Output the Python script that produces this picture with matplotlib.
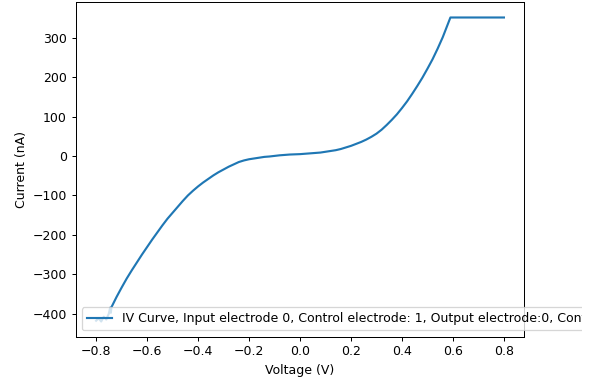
import matplotlib
matplotlib.use("Agg")
import matplotlib.pyplot as plt
from matplotlib.patches import Rectangle

# Measured sweep: voltage (V) and current (nA)
voltage = [
    -0.80, -0.79, -0.78, -0.77, -0.76, -0.75, -0.745, -0.742, -0.74, -0.73,
    -0.72, -0.70, -0.68, -0.66, -0.64, -0.62, -0.60, -0.58, -0.56, -0.54,
    -0.52, -0.50, -0.48, -0.46, -0.44, -0.42, -0.40, -0.38, -0.36, -0.34,
    -0.32, -0.30, -0.28, -0.26, -0.24, -0.22, -0.20, -0.18, -0.16, -0.14,
    -0.12, -0.10, -0.08, -0.06, -0.04, -0.02, 0.00, 0.02, 0.04, 0.06,
    0.08, 0.10, 0.12, 0.14, 0.16, 0.18, 0.20, 0.22, 0.24, 0.26,
    0.28, 0.30, 0.32, 0.34, 0.36, 0.38, 0.40, 0.42, 0.44, 0.46,
    0.48, 0.50, 0.52, 0.54, 0.56, 0.575, 0.59, 0.80,
]
current = [
    -418, -412, -420, -408, -415, -400, -385, -398, -384, -371,
    -358, -334, -311, -290, -270, -250, -231, -212, -194, -176,
    -159, -144, -129, -114, -100, -88, -77, -67, -58, -49,
    -41, -34, -27, -21, -15, -11, -8, -6, -4, -2,
    -1, 0.5, 2, 3, 4, 4.5, 5, 6, 7, 8,
    9, 11, 13, 15, 18, 22, 26, 31, 36, 42,
    49, 57, 67, 79, 92, 106, 122, 139, 158, 178,
    199, 222, 246, 273, 302, 327, 352, 352,
]

label = ("IV Curve, Input electrode 0, Control electrode: 1, "
         "Output electrode:0, Control voltage: 0.0 V")

DPI = 90.4
fig = plt.figure(figsize=(598 / DPI, 382 / DPI), dpi=DPI)
ax = fig.add_axes([0.1266, 0.1186, 0.7502, 0.8754])
ax.plot(voltage, current, color="#1f77b4", linewidth=1.7, label=label)
ax.set_xlabel("Voltage (V)")
ax.set_ylabel("Current (nA)")
ax.legend(loc="lower left")

# right-hand margin strip of the canvas
fig.add_artist(Rectangle((582 / 598, 0), 16 / 598, 1, transform=fig.transFigure,
                         facecolor="white", edgecolor="none", zorder=10))

fig.savefig("out.png", dpi=DPI)
